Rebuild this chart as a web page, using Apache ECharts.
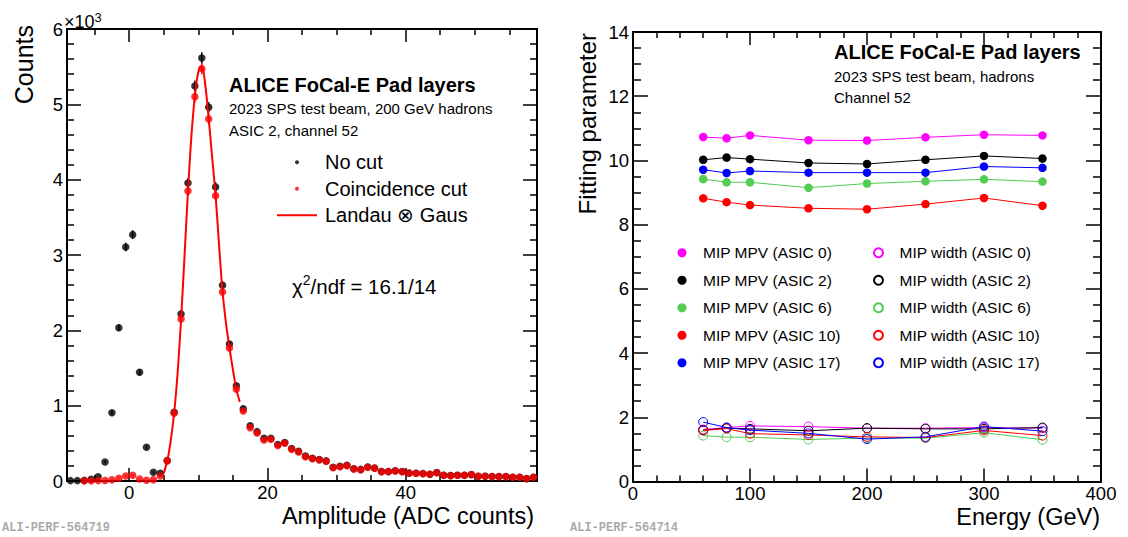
<!DOCTYPE html>
<html>
<head>
<meta charset="utf-8">
<script src="https://cdn.jsdelivr.net/npm/echarts@6/dist/echarts.min.js"></script>
<style>html,body{margin:0;padding:0;background:#fff}#c{width:1128px;height:537px}</style>
</head>
<body>
<div id="c"></div>
<script>
// ---------------- Left panel data ----------------
const amplitudeBins = [-8.5,-7.5,-6.5,-5.5,-4.5,-3.5,-2.5,-1.5,-0.5,0.5,1.5,2.5,3.5,4.5,5.5,6.5,7.5,8.5,9.5,10.5,11.5,12.5,13.5,14.5,15.5,16.5,17.5,18.5,19.5,20.5,21.5,22.5,23.5,24.5,25.5,26.5,27.5,28.5,29.5,30.5,31.5,32.5,33.5,34.5,35.5,36.5,37.5,38.5,39.5,40.5,41.5,42.5,43.5,44.5,45.5,46.5,47.5,48.5,49.5,50.5,51.5,52.5,53.5,54.5,55.5,56.5,57.5,58.5];
const noCutCounts = [5,5,8,22,57,252,907,2035,3106,3270,1443,447,115,102,272,912,2217,3956,5244,5615,4960,3903,2597,1818,1265,960,734,655,566,566,485,512,430,394,331,303,286,267,182,195,208,163,154,185,172,127,127,136,127,105,104,99,90,112,77,73,77,77,86,64,64,60,59,59,50,50,32,50];
const coincidenceCounts = [null,null,2,2,5,8,15,35,66,75,27,10,15,66,265,898,2150,3850,5102,5474,4806,3788,2509,1766,1217,929,708,637,544,553,470,500,420,385,323,296,279,261,177,190,203,159,150,181,168,124,124,133,124,102,102,97,88,110,75,71,75,75,84,62,62,58,58,58,49,49,31,49];
const fitAmplitude = [5.0,5.5,6.0,6.5,7.0,7.5,8.0,8.5,9.0,9.5,10.0,10.5,11.0,11.5,12.0,12.5,13.0,13.5,14.0,14.5,15.0,15.5,16.0];
const fitCounts = [105,265,530,900,1430,2140,2980,3840,4580,5110,5430,5510,5260,4810,4300,3790,3130,2520,2100,1770,1480,1220,1050];
const leftXTicks = [0,20,40];
const leftXMinorTicks = [-5,5,10,15,25,30,35,45,50,55];
const leftYTicks = [0,1000,2000,3000,4000,5000,6000];
const leftYMinorTicks = [200,400,600,800,1200,1400,1600,1800,2200,2400,2600,2800,3200,3400,3600,3800,4200,4400,4600,4800,5200,5400,5600,5800];

// ---------------- Right panel data ----------------
const energies = [60,80,100,150,200,250,300,350];
const asics = ['0','2','6','10','17'];
const mpvASIC0  = [10.73,10.69,10.78,10.63,10.62,10.72,10.80,10.78];
const mpvASIC2  = [10.02,10.09,10.04,9.92,9.89,10.02,10.14,10.06];
const mpvASIC6  = [9.42,9.32,9.32,9.15,9.28,9.35,9.41,9.34];
const mpvASIC10 = [8.82,8.70,8.61,8.51,8.48,8.64,8.83,8.59];
const mpvASIC17 = [9.71,9.61,9.67,9.62,9.62,9.62,9.81,9.77];
const widthASIC0  = [1.62,1.68,1.73,1.71,1.66,1.66,1.68,1.66];
const widthASIC2  = [1.60,1.66,1.64,1.58,1.66,1.64,1.64,1.68];
const widthASIC6  = [1.43,1.38,1.38,1.31,1.35,1.35,1.52,1.30];
const widthASIC10 = [1.59,1.65,1.49,1.45,1.39,1.37,1.59,1.43];
const widthASIC17 = [1.85,1.68,1.60,1.50,1.32,1.39,1.71,1.57];
const rightXTicks = [0,100,200,300,400];
const rightXMinorTicks = [20,40,60,80,120,140,160,180,220,240,260,280,320,340,360,380];
const rightYTicks = [0,2,4,6,8,10,12,14];
const rightYMinorTicks = [0.5,1,1.5,2.5,3,3.5,4.5,5,5.5,6.5,7,7.5,8.5,9,9.5,10.5,11,11.5,12.5,13,13.5];

const asicColors = ['#ff00ff','#000000','#52cc52','#ff0000','#0000ff'];
const mpvSets = [mpvASIC0,mpvASIC2,mpvASIC6,mpvASIC10,mpvASIC17];
const widthSets = [widthASIC0,widthASIC2,widthASIC6,widthASIC10,widthASIC17];

const FONT = '"Liberation Sans", Arial, Helvetica, sans-serif';

function axisSet(dim, gridIndex, min, max, major, minor, majorLen, minorLen, fmt) {
  const pos = dim === 'x' ? ['bottom','top'] : ['left','right'];
  const base = {
    gridIndex, type: 'value', min, max,
    splitLine: {show: false}, minorTick: {show: false}, axisPointer: {show: false},
    silent: true
  };
  const lbl = {show: true, customValues: major, margin: 4, fontSize: 18.5,
    lineHeight: 15, color: '#000', fontFamily: FONT};
  if (fmt) lbl.formatter = fmt;
  const line = {show: true, onZero: false, lineStyle: {color: '#000', width: 2}};
  const tickStyle = {color: '#000', width: 1.5};
  return [
    Object.assign({}, base, {position: pos[0], axisLine: line,
      axisTick: {show: true, inside: true, length: majorLen, customValues: major, lineStyle: tickStyle},
      axisLabel: lbl}),
    Object.assign({}, base, {position: pos[1], axisLine: line,
      axisTick: {show: true, inside: true, length: majorLen, customValues: major, lineStyle: tickStyle},
      axisLabel: {show: false}}),
    Object.assign({}, base, {position: pos[0], axisLine: {show: false, onZero: false},
      axisTick: {show: true, inside: true, length: minorLen, customValues: minor, lineStyle: tickStyle},
      axisLabel: {show: false}}),
    Object.assign({}, base, {position: pos[1], axisLine: {show: false, onZero: false},
      axisTick: {show: true, inside: true, length: minorLen, customValues: minor, lineStyle: tickStyle},
      axisLabel: {show: false}})
  ];
}

const xAxes = [].concat(
  axisSet('x', 0, -9, 59, leftXTicks, leftXMinorTicks, 13, 6),
  axisSet('x', 1, 0, 400, rightXTicks, rightXMinorTicks, 13, 6)
);
const yAxes = [].concat(
  axisSet('y', 0, 0, 6000, leftYTicks, leftYMinorTicks, 14, 7, v => String(v / 1000)),
  axisSet('y', 1, 0, 14, rightYTicks, rightYMinorTicks, 15, 8)
);

function pairs(xs, ys) {
  const out = [];
  for (let i = 0; i < xs.length; i++) if (ys[i] !== null && ys[i] !== undefined) out.push([xs[i], ys[i]]);
  return out;
}

function errorBars(data, color) {
  return {
    type: 'custom', xAxisIndex: 0, yAxisIndex: 0, silent: true, z: 2,
    data: data,
    renderItem: function (params, api) {
      const x = api.value(0), y = api.value(1);
      if (!(y > 0)) return null;
      const e = Math.sqrt(y);
      const p1 = api.coord([x, y - e]);
      const p2 = api.coord([x, y + e]);
      return {type: 'line', shape: {x1: p1[0], y1: p1[1], x2: p2[0], y2: p2[1]},
        style: {stroke: color, lineWidth: 1.5}};
    }
  };
}

const noCutData = pairs(amplitudeBins, noCutCounts);
const coincData = pairs(amplitudeBins, coincidenceCounts);

const series = [
  {name: 'No cut', type: 'scatter', xAxisIndex: 0, yAxisIndex: 0, data: noCutData,
    symbol: 'circle', symbolSize: 7.5, itemStyle: {color: '#000'}, z: 2},
  errorBars(noCutData, '#000'),
  {name: 'Coincidence cut', type: 'scatter', xAxisIndex: 0, yAxisIndex: 0, data: coincData,
    symbol: 'circle', symbolSize: 7.5, itemStyle: {color: '#ff0000'}, z: 3},
  Object.assign(errorBars(coincData, '#ff0000'), {z: 3}),
  {name: 'Landau ⊗ Gaus', type: 'line', xAxisIndex: 0, yAxisIndex: 0, data: pairs(fitAmplitude, fitCounts),
    smooth: 0.35, symbol: 'none', showSymbol: false, lineStyle: {color: '#ff0000', width: 2},
    itemStyle: {color: '#ff0000'}, z: 4}
];

asics.forEach((a, i) => {
  series.push({name: 'MIP MPV (ASIC ' + a + ')', type: 'line', xAxisIndex: 4, yAxisIndex: 4,
    data: pairs(energies, mpvSets[i]), symbol: 'circle', symbolSize: 8.5,
    itemStyle: {color: asicColors[i]}, lineStyle: {color: asicColors[i], width: 1}, z: 3 + i});
});
asics.forEach((a, i) => {
  series.push({name: 'MIP width (ASIC ' + a + ')', type: 'line', xAxisIndex: 4, yAxisIndex: 4,
    data: pairs(energies, widthSets[i]), symbol: 'circle', symbolSize: 9,
    itemStyle: {color: 'rgba(255,255,255,0)', borderColor: asicColors[i], borderWidth: 1},
    lineStyle: {color: asicColors[i], width: 1}, z: 10 + i});
});

function txt(x, y, text, size, extra) {
  return {type: 'text', x: x, y: y, silent: true,
    style: Object.assign({text: text, fontSize: size, fontFamily: FONT, fill: '#000',
      textAlign: 'left', textVerticalAlign: 'middle'}, extra || {})};
}

const option = {
  animation: false,
  backgroundColor: '#fff',
  grid: [
    {left: 67, top: 29, width: 470, height: 452, outerBoundsMode: 'none', containLabel: false},
    {left: 633, top: 32, width: 468, height: 449.5, outerBoundsMode: 'none', containLabel: false}
  ],
  xAxis: xAxes,
  yAxis: yAxes,
  legend: [
    {left: 277, top: 149, orient: 'vertical', padding: 0, itemGap: 0, itemWidth: 40, itemHeight: 4,
      selectedMode: false,
      textStyle: {fontSize: 20, fontFamily: FONT, color: '#000', lineHeight: 26.5, padding: [0, 0, 0, 3]},
      data: [{name: 'No cut', icon: 'circle'}, {name: 'Coincidence cut', icon: 'circle'},
             {name: 'Landau ⊗ Gaus', icon: 'path://M0,0h40v2h-40z'}]},
    {left: 677.5, top: 239, orient: 'vertical', padding: 0, itemGap: 0, itemWidth: 9, itemHeight: 9,
      selectedMode: false,
      textStyle: {fontSize: 15.5, fontFamily: FONT, color: '#000', lineHeight: 27.5, padding: [0, 0, 0, 11.5]},
      data: asics.map(a => ({name: 'MIP MPV (ASIC ' + a + ')', icon: 'circle'}))},
    {left: 873, top: 239, orient: 'vertical', padding: 0, itemGap: 0, itemWidth: 9, itemHeight: 9,
      selectedMode: false,
      textStyle: {fontSize: 15.5, fontFamily: FONT, color: '#000', lineHeight: 27.5, padding: [0, 0, 0, 11.5]},
      data: asics.map(a => ({name: 'MIP width (ASIC ' + a + ')', icon: 'circle'}))}
  ],
  graphic: [
    // left panel
    txt(24, 25, 'Counts', 25, {textAlign: 'right'}),
    txt(534, 516, 'Amplitude (ADC counts)', 23.5, {textAlign: 'right', lineHeight: 20}),
    {type: 'text', x: 64, y: 21, silent: true, style: {text: '{a|×10}{b|3}', fontFamily: FONT, fill: '#000',
      textVerticalAlign: 'middle',
      rich: {a: {fontSize: 18, fontFamily: FONT, lineHeight: 20, verticalAlign: 'bottom'},
             b: {fontSize: 13, fontFamily: FONT, lineHeight: 13, verticalAlign: 'top'}}}},
    txt(229, 85, 'ALICE FoCal-E Pad layers', 20, {fontWeight: 'bold'}),
    txt(229, 108, '2023 SPS test beam, 200 GeV hadrons', 15),
    txt(229, 130, 'ASIC 2, channel 52', 15),
    {type: 'text', x: 292, y: 285, silent: true, style: {text: '{a|χ}{b|2}{a|/ndf = 16.1/14}', fontFamily: FONT, fill: '#000',
      textVerticalAlign: 'middle',
      rich: {a: {fontSize: 20.5, fontFamily: FONT, lineHeight: 24, verticalAlign: 'bottom'},
             b: {fontSize: 14, fontFamily: FONT, lineHeight: 14, verticalAlign: 'top'}}}},
    txt(2, 527.5, 'ALI-PERF-564719', 12, {fontFamily: '"Liberation Mono", "DejaVu Sans Mono", monospace', fontWeight: 'bold', fill: '#aaaaaa'}),
    // right panel
    txt(587, 33, 'Fitting parameter', 24, {textAlign: 'right'}),
    txt(1100, 517, 'Energy (GeV)', 23.5, {textAlign: 'right', lineHeight: 20}),
    txt(834, 52, 'ALICE FoCal-E Pad layers', 20, {fontWeight: 'bold'}),
    txt(834, 76, '2023 SPS test beam, hadrons', 15),
    txt(834, 97, 'Channel 52', 15),
    txt(570, 527.5, 'ALI-PERF-564714', 12, {fontFamily: '"Liberation Mono", "DejaVu Sans Mono", monospace', fontWeight: 'bold', fill: '#aaaaaa'})
  ],
  series: series
};
// rotate the vertical titles
option.graphic[0].rotation = Math.PI / 2;
option.graphic[8].rotation = Math.PI / 2;

const chart = echarts.init(document.getElementById('c'), null, {renderer: 'svg', width: 1128, height: 537});
chart.setOption(option);
</script>
</body>
</html>
